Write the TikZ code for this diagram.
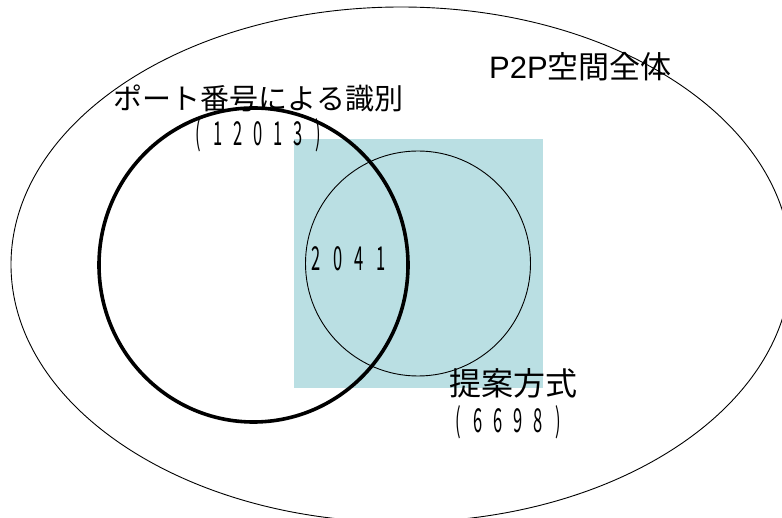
\documentclass[tikz,border=0pt]{standalone}
\usepackage{fontspec}
\setmainfont{Noto Sans CJK JP}
\newfontfamily\latinfont{Liberation Sans}
\usepackage{graphicx}
\definecolor{teal1}{RGB}{186,223,227}
\newcommand{\dg}[2][20pt]{\makebox[#1]{\scalebox{0.5}[1]{#2}}}
\begin{document}
\begin{tikzpicture}[x=1pt,y=-1pt,
  lbl/.style={inner sep=0pt,font=\fontsize{29}{34}\selectfont},
  lblbig/.style={inner sep=0pt,font=\fontsize{32}{37}\selectfont},
  num/.style={inner sep=0pt,font=\fontsize{33}{38}\selectfont},
  thin/.style={line width=0.9pt},
  thick/.style={line width=3.6pt}]
\useasboundingbox (0,0) rectangle (782,518);
\clip (0,0) rectangle (782,518);
\fill[teal1] (294,139) rectangle (543,388);
\draw[thin] (401,264.6) ellipse [x radius=390, y radius=257.6];
\draw[thin] (418,263.5) circle [radius=112.5];
\draw[thick] (253.5,265) ellipse [x radius=154.5, y radius=157];
\node[lbl] (port) at (258.5,98) {ポート番号による識別};
\node[num] (portn) at (258,135) {\dg{(}\dg{1}\dg{2}\dg{0}\dg{1}\dg{3}\dg{)}};
\node[num] (both) at (348.5,258.5) {\dg[21.5pt]{2}\dg[21.5pt]{0}\dg[21.5pt]{4}\dg[21.5pt]{1}};
\node[lbl,font=\fontsize{31}{36}\selectfont] (all) at (580.5,67) {{\latinfont P2P}空間全体};
\node[lblbig] (prop) at (513.5,383) {提案方式};
\node[num] (propn) at (508,422) {\dg{(}\dg{6}\dg{6}\dg{9}\dg{8}\dg{)}};
\end{tikzpicture}
\end{document}
